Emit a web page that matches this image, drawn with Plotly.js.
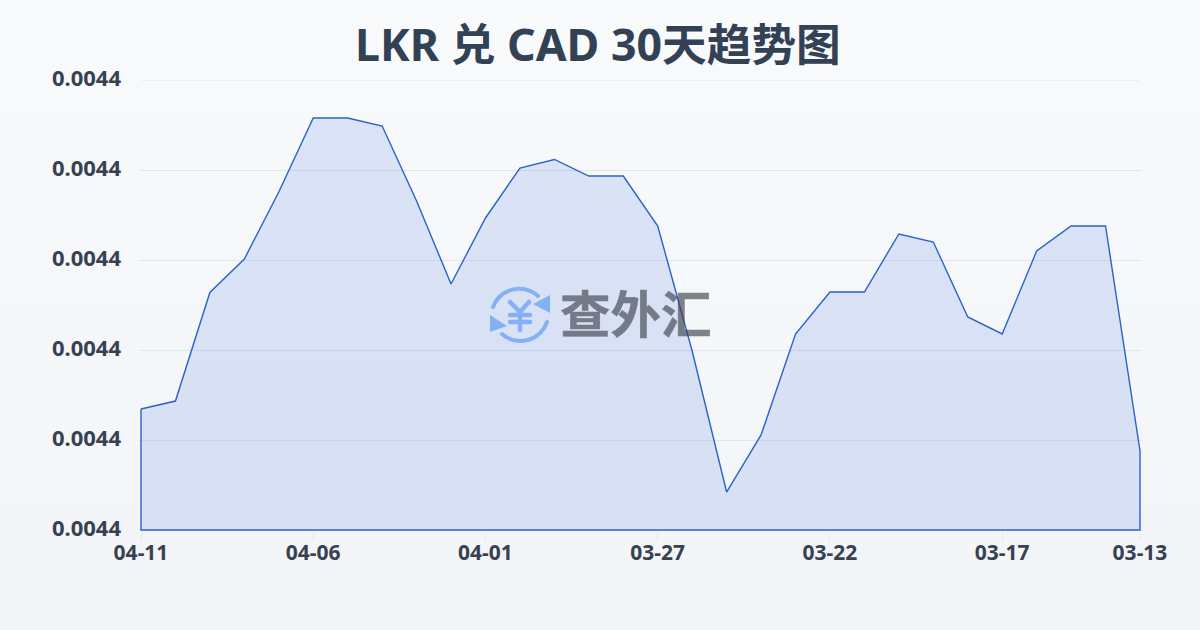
<!DOCTYPE html>
<html><head><meta charset="utf-8">
<script src="https://cdn.plot.ly/plotly-3.0.1.min.js"></script>
<style>
html,body{margin:0;padding:0;width:1200px;height:630px;overflow:hidden;background:linear-gradient(180deg,#f8fafc 0%,#f2f4f7 100%);}
#wm{position:absolute;left:488px;top:282px;width:240px;height:66px;opacity:0.65;z-index:2;}
#wm svg{position:absolute;left:0;top:0;}
#wm span{position:absolute;left:72px;top:-4px;font:700 50.5px/66px "Noto Sans CJK SC";color:#40444f;white-space:nowrap;-webkit-text-stroke:0.5px #40444f;}
#chart{position:absolute;left:0;top:0;width:1200px;height:630px;z-index:1;}
</style></head><body>
<div id="wm">
<svg width="64" height="66" viewBox="0 0 64 66" fill="none" stroke="#5b96f7" stroke-linecap="round" stroke-linejoin="round">
<path d="M5 25 A28 28 0 0 1 50 14" stroke-width="4"/><path d="M62 13 L62 31 L45 22 Z" fill="#5b96f7" stroke="none"/>
<path d="M59 40 A28 28 0 0 1 14 52" stroke-width="4"/><path d="M2 33 L2 50 L19 44 Z" fill="#5b96f7" stroke="none"/>
<path d="M22 20 L32 30 L41 20 M22 33 H42 M22 40 H42 M32 30 V48" stroke-width="4.5"/>
</svg><span>查外汇</span></div>
<div id="chart"></div>
<script>
const dates = ["04-11","04-10","04-09","04-08","04-07","04-06","04-05","04-04","04-03","04-02","04-01","03-31","03-30","03-29","03-28","03-27","03-26","03-25","03-24","03-23","03-22","03-21","03-20","03-19","03-18","03-17","03-16","03-15","03-14","03-13"];
const rates = [0.00439344,0.00439433,0.00440639,0.00441011,0.00441756,0.00442578,0.00442578,0.00442489,0.00441656,0.00440733,0.00441467,0.00442022,0.00442117,0.00441933,0.00441933,0.00441378,0.00439989,0.00438422,0.00439056,0.00440178,0.00440644,0.00440644,0.00441289,0.00441200,0.00440367,0.00440178,0.00441100,0.00441378,0.00441378,0.00438878];
const tickDates = ["04-11","04-06","04-01","03-27","03-22","03-17","03-13"];
const yTicks = [0.00438,0.00439,0.0044,0.00441,0.00442,0.00443];
const baseline = 0.00438;
const titleText = "LKR 兑 CAD 30天趋势图";

const first = dates[0], last = dates[dates.length-1];
const closedX = dates.concat([last, first, first]);
const closedY = rates.concat([baseline, baseline, rates[0]]);
const areaTrace = {
  type:"scatter", mode:"lines", x:closedX, y:closedY,
  fill:"toself", fillcolor:"rgba(37,90,215,0.135)",
  line:{width:0}, cliponaxis:false, hoverinfo:"skip", showlegend:false
};
const outlineTrace = {
  type:"scatter", mode:"lines", x:closedX, y:closedY, fill:"none",
  line:{color:"#2b62c9",width:1.4,shape:"linear",simplify:false},
  cliponaxis:false, hoverinfo:"skip", showlegend:false
};
const font = '"Noto Sans","Noto Sans CJK SC",sans-serif';
const layout = {
  width:1200,height:630,
  paper_bgcolor:"rgba(0,0,0,0)",plot_bgcolor:"rgba(0,0,0,0)",
  margin:{l:138.5,r:57.5,t:80,b:97.5},
  title:{text:titleText,x:0.4983,xanchor:"center",y:0.928,yanchor:"middle",font:{family:font,size:44.7,color:"#334155",weight:700}},
  xaxis:{type:"category",range:[-0.058,29.058],tickmode:"array",tickvals:tickDates,ticktext:tickDates,
    showgrid:false,zeroline:false,showline:false,ticks:"outside",ticklen:8,tickwidth:1,tickcolor:"#e5e7eb",ticklabelstandoff:-6,
    tickangle:0,tickfont:{family:font,size:21,color:"#374151",weight:700}},
  yaxis:{range:[0.00437978,0.00443],tickmode:"array",tickvals:yTicks,tickformat:".4f",ticklabelshift:-2,
    showgrid:true,gridcolor:"rgba(203,213,225,0.5)",gridwidth:1,zeroline:false,showline:false,
    ticks:"",ticklabelstandoff:17,tickfont:{family:font,size:22,color:"#374151",weight:700}},
  shapes:[{type:"line",xref:"paper",x0:0.002,x1:0.998,yref:"y",y0:yTicks[yTicks.length-1],y1:yTicks[yTicks.length-1],
    line:{color:"rgba(203,213,225,0.5)",width:1},layer:"below"}]
};
Plotly.newPlot("chart",[areaTrace,outlineTrace],layout,{displayModeBar:false,staticPlot:true});
</script></body></html>
